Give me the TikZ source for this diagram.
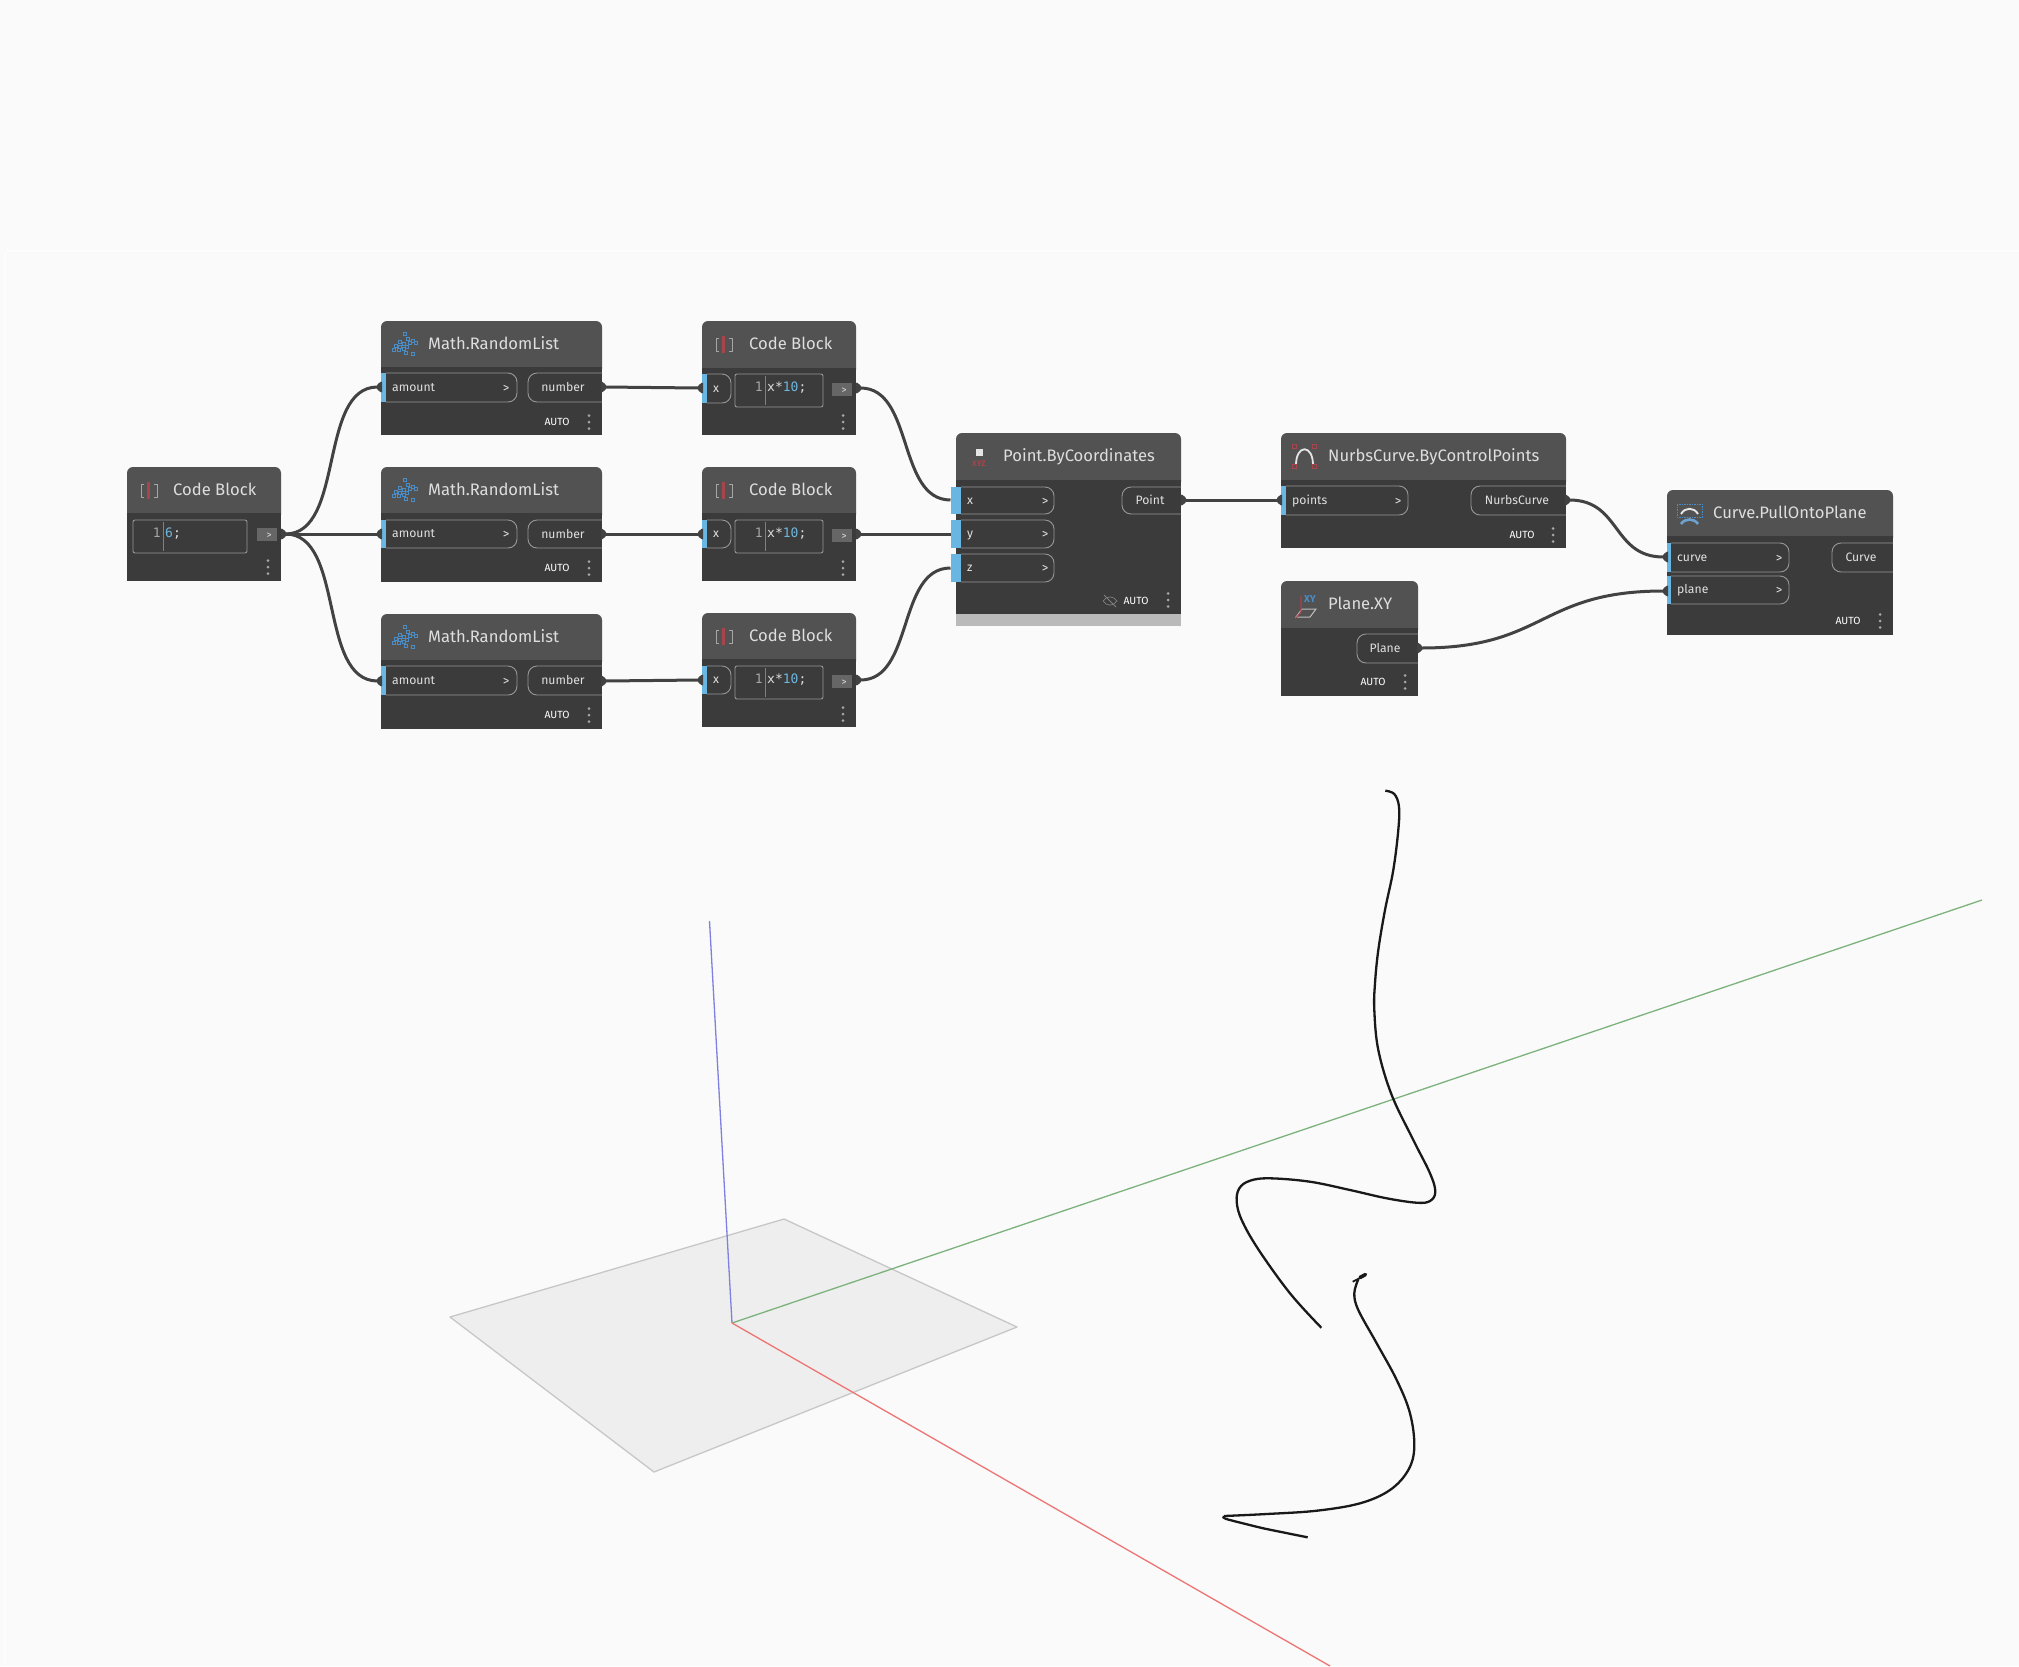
\documentclass[tikz,border=0pt]{standalone}
\usepackage{fontspec}
\setmainfont{Fira Sans}
\newfontfamily\codefont{DejaVu Sans Mono}
\definecolor{bgc}{HTML}{FAFAFA}
\definecolor{headc}{HTML}{525252}
\definecolor{bodyc}{HTML}{3B3B3B}
\definecolor{wirec}{HTML}{424242}
\definecolor{barblue}{HTML}{6AB6E2}
\definecolor{pillc}{HTML}{979797}
\definecolor{titlec}{HTML}{DEDEDE}
\definecolor{codeblue}{HTML}{6FB6DE}
\definecolor{redbar}{HTML}{A8444C}
\definecolor{iconblue}{HTML}{4A8CC6}
\tikzset{
  bodybox/.style={fill=bodyc,draw=none,inner sep=0pt,outer sep=0pt,anchor=north west},
  titlelbl/.style={text=titlec,inner sep=0pt,anchor=mid west,font=\fontsize{16.6}{16.6}\selectfont},
  portlbl/.style={text=titlec!95!white,inner sep=0pt,font=\fontsize{12.2}{12.2}\selectfont},
  autolbl/.style={text=white,inner sep=0pt,anchor=mid,font=\fontsize{10.4}{10.4}\selectfont},
  chev/.style={text=titlec,inner sep=0pt,anchor=mid,font=\fontsize{13}{13}\selectfont},
  pill/.style={draw=pillc,line width=0.9pt},
  tabnode/.style={inner sep=0pt,minimum size=1pt,outer sep=0pt},
  wire/.style={draw=wirec,line width=3pt},
  codelbl/.style={inner sep=0pt,anchor=mid west,font=\codefont\fontsize{13}{13}\selectfont},
  dotc/.style={fill=black!35!white}
}
% id, x1, x2, ytop, yhead, ybot, title, title x
\newcommand{\block}[8]{%
  \fill[headc,rounded corners=6pt] (#2,#5+8)--(#2,#4)--(#3,#4)--(#3,#5+8)--cycle;
  \node[bodybox,minimum width={#3pt-#2pt},minimum height={#6pt-#5pt}] (#1) at (#2,#5) {};
  \node[titlelbl] (#1title) at (#8,#4+26) {#7};
}
% id, bar left, bar right, pill right, y1, y2, label, chevron x
\newcommand{\inport}[8]{%
  \draw[pill,rounded corners=9pt] (#3,#5)--(#4,#5)--(#4,#6)--(#3,#6);
  \fill[barblue] (#2,#5) rectangle (#3,#6);
  \node[portlbl,anchor=mid west] (#1lbl) at (#3+6,{(#5+#6)/2+1}) {#7};
  \if\relax\detokenize{#8}\relax\else
    \node[chev] (#1chev) at (#8,{(#5+#6)/2+2}) {>};
  \fi
}
% id, pill left, pill right, y1, y2, label, label x
\newcommand{\outport}[7]{%
  \draw[pill,rounded corners=9pt] (#3,#4)--(#2,#4)--(#2,#5)--(#3,#5);
  \node[portlbl,anchor=mid] (#1lbl) at (#7,{(#4+#5)/2+1.5}) {#6};
}
\newcommand{\intab}[3]{%
  \fill[wirec,rounded corners=1pt] (#2+2,#3-6)--(#2-3,#3-2.5)--(#2-3,#3+2.5)--(#2+2,#3+6)--cycle;
  \node[tabnode] (#1) at (#2-2,#3) {};
}
\newcommand{\outtab}[3]{%
  \fill[wirec,rounded corners=1pt] (#2-2,#3-6)--(#2+3,#3-2.5)--(#2+3,#3+2.5)--(#2-2,#3+6)--cycle;
  \node[tabnode] (#1) at (#2+2,#3) {};
}
\newcommand{\kebab}[2]{%
  \fill[dotc] (#1,#2-6.5) circle (1.5) (#1,#2) circle (1.5) (#1,#2+6.5) circle (1.5);
}
% id, x, y
\newcommand{\autotag}[3]{\node[autolbl] (#1) at (#2,#3+1) {AUTO};}
% x of block left, ytop
\newcommand{\cbicon}[2]{%
  \draw[black!35!white,line width=1pt] (#1+17,#2+17)--(#1+14,#2+17)--(#1+14,#2+30)--(#1+17,#2+30);
  \draw[black!35!white,line width=1pt] (#1+27,#2+17)--(#1+30,#2+17)--(#1+30,#2+30)--(#1+27,#2+30);
  \fill[redbar] (#1+20,#2+15) rectangle (#1+23,#2+32);
}
% center of the random list icon
\newcommand{\mathicon}[2]{%
  \foreach \dx/\dy in {-11/6,-9/2,-6/6,-5/-2,-5/3,-1/0,-1/5,0/-10,2/3,1/9,5/-1,8/-3,11/-1,8/10,3/-5}{
    \draw[iconblue,line width=.9pt] (#1+\dx-1.2,#2+\dy-1.2) rectangle (#1+\dx+1.2,#2+\dy+1.2);
  }
}
\begin{document}
\begin{tikzpicture}[x=1pt,y=-1pt]
\useasboundingbox (0,0) rectangle (2019,1666);
\fill[bgc] (0,0) rectangle (2019,1666);
\draw[white,line width=1.2pt,opacity=.7] (6,251)--(2019,251);
\draw[white,line width=1.2pt,opacity=.7] (5,253)--(5,1666);
% 3D background
\draw[fill=black!6.5!white,draw=black!22!white,line width=1.3pt,line join=round] (450,1317)--(784,1219)--(1017,1327)--(654,1472)--cycle;
\draw[color={rgb,255:red,128;green,128;blue,226},line width=1.3pt] (732,1323)--(709.5,921);
\draw[color={rgb,255:red,124;green,178;blue,124},line width=1.3pt] (732,1323)--(1982,900);
\draw[color={rgb,255:red,238;green,116;blue,116},line width=1.3pt] (732,1323)--(1330,1666);
\draw[black!90!white,line width=2.3pt,line cap=butt,smooth,tension=0.6] plot coordinates {(1385.3,790.7) (1394.3,794) (1399,806.7) (1398.3,830) (1393.3,870) (1385,910) (1378.3,950) (1375,983.3) (1374.3,1010) (1378.3,1050) (1391.7,1095) (1413.3,1140) (1430,1173.3) (1435.3,1191.7) (1430,1201) (1416.7,1202.7) (1386.7,1198.3) (1350,1190) (1310,1181.7) (1270,1178.3) (1250,1180.7) (1239.3,1188.3) (1236.7,1201.7) (1241.7,1220) (1258.3,1249.3) (1290,1293.3) (1321.3,1327.7)};
\draw[black!90!white,line width=2.3pt,smooth,tension=0.6] plot coordinates {(1358.3,1279.3) (1354.3,1293.3) (1358.3,1310) (1376.7,1343.3) (1396.7,1380) (1410,1413.3) (1414.3,1446.7) (1408.3,1470) (1390,1490) (1360,1503.3) (1316.7,1510.7) (1266.7,1514) (1224,1516)};
\draw[black!90!white,line width=2.3pt,smooth,tension=0.3] plot coordinates {(1224,1516) (1223.5,1517.5) (1228,1519.5) (1263.3,1528.3) (1307.7,1537.3)};
\draw[black!90!white,line width=1.8pt] (1352.7,1281.7)--(1362,1277);
\draw[black!90!white,line width=3.6pt,line cap=round] (1360,1277.5)--(1365.5,1274.5);

% Blocks
\block{cb0}{127}{281}{467}{513}{581}{Code Block}{173}
\block{m1}{381}{602}{321}{367}{435}{Math.RandomList}{428}
\block{m2}{381}{602}{467}{513}{582}{Math.RandomList}{428}
\block{m3}{381}{602}{614}{660}{729}{Math.RandomList}{428}
\block{c1}{702}{856}{321}{368}{435}{Code Block}{749}
\block{c2}{702}{856}{467}{513}{581}{Code Block}{749}
\block{c3}{702}{856}{613}{659}{727}{Code Block}{749}
\block{pt}{956}{1181}{433}{480}{614}{Point.ByCoordinates}{1003}
\fill[black!27!white] (956,614) rectangle (1181,626);
\block{nc}{1281}{1566}{433}{480}{548}{NurbsCurve.ByControlPoints}{1328}
\block{pl}{1281}{1418}{581}{628}{696}{Plane.XY}{1328}
\block{cv}{1667}{1893}{490}{536}{635}{Curve.PullOntoPlane}{1713}

% Icons
\cbicon{127}{467}\cbicon{702}{321}\cbicon{702}{467}\cbicon{702}{613}
\mathicon{405}{344}\mathicon{405}{490}\mathicon{405}{637}
\fill[white!90!black] (975.5,448.5) rectangle (982.5,455.5);
\node[inner sep=0pt,text=redbar,font=\fontsize{8}{8}\selectfont\bfseries] (pticon) at (979,464) {XYZ};
\draw[white!90!black,line width=1.8pt] (1296,465) .. controls (1296,444) and (1313,444) .. (1313,465);
\draw[redbar,line width=.8pt] (1292.5,444.5) rectangle +(3.5,3.5);
\draw[redbar,line width=.8pt] (1312.5,444.5) rectangle +(3.5,3.5);
\draw[redbar,line width=.8pt] (1292.5,464.5) rectangle +(3.5,3.5);
\draw[redbar,line width=.8pt] (1312.5,464.5) rectangle +(3.5,3.5);
\node[inner sep=0pt,text=iconblue,font=\fontsize{10}{10}\selectfont\bfseries] (plicon) at (1310,599) {XY};
\draw[white!75!black,line width=1pt] (1296,617)--(1302,609)--(1316,609)--(1310,617)--cycle;
\draw[redbar,line width=1.1pt] (1301,596)--(1301,612)--(1296,618);
\draw[iconblue,dashed,dash pattern=on 1.5pt off 1pt,line width=.8pt] (1677,504) rectangle (1702,517);
\draw[white!90!black,line width=1.9pt] (1681,514) .. controls (1685,507) and (1694,507) .. (1698,514);
\draw[iconblue!80!white,line width=2.6pt] (1681,524) .. controls (1685,518) and (1694,518) .. (1698,524);

% Ports of the first code block
\draw[pill,rounded corners=2pt] (133,520) rectangle (247,553);
\draw[black!50!white,line width=.5pt] (163,522)--(163,551);
\node[codelbl,text=black!35!white,anchor=mid east] (cb0n) at (161,535) {1};
\node[codelbl,anchor=mid west] (cb0code) at (165,535) {\textcolor{codeblue}{6}\textcolor{titlec}{;}};
\fill[black!60!white] (257,528) rectangle (277,541);
\node[chev,font=\fontsize{10}{10}\selectfont] (cb0chev) at (269,536) {>};
\kebab{268}{567}
\outtab{cb0out}{283}{534}

% Math.RandomList blocks
\foreach \n/\pa/\pb/\au in {1/373/402/422,2/520/548/568,3/666/695/715}{
  \inport{m\n amount}{381}{386}{517}{\pa}{\pb}{amount}{506}
  \outport{m\n number}{528}{602}{\pa}{\pb}{number}{563}
  \autotag{m\n auto}{557}{\au}
  \kebab{589}{\au}
}
\intab{m1in}{380}{387}\outtab{m1out}{603}{387}
\intab{m2in}{380}{534}\outtab{m2out}{603}{534}
\intab{m3in}{380}{681}\outtab{m3out}{603}{681}

% x*10 code blocks
\foreach \n/\yc/\pb/\bb in {1/374/403/407,2/520/548/553,3/666/694/699}{
  \inport{c\n x}{702}{707}{731}{\yc}{\pb}{x}{}
  \draw[pill,rounded corners=2pt] (735,\yc) rectangle (823,\bb);
  \draw[black!50!white,line width=.5pt] (765,\yc+2)--(765,\bb-2);
  \node[codelbl,text=black!35!white,anchor=mid east] (c\n n) at (763,\yc+15) {1};
  \node[codelbl] (c\n code) at (767,\yc+15) {\textcolor{titlec}{x*}\textcolor{codeblue}{10}\textcolor{titlec}{;}};
  \fill[black!60!white] (832,\yc+9) rectangle (852,\yc+22);
  \node[chev,font=\fontsize{10}{10}\selectfont] (c\n chev) at (844,\yc+17) {>};
  \kebab{843}{\yc+48}
}
\intab{c1in}{701}{388}\outtab{c1out}{858}{388}
\intab{c2in}{701}{534}\outtab{c2out}{858}{534}
\intab{c3in}{701}{680}\outtab{c3out}{858}{680}

% Point.ByCoordinates
\inport{ptx}{951}{961}{1054}{487}{514}{x}{1045}
\inport{pty}{951}{961}{1054}{520}{548}{y}{1045}
\inport{ptz}{951}{961}{1054}{554}{582}{z}{1045}
\node[tabnode] (ptxin) at (951,500) {};
\node[tabnode] (ptyin) at (951,534) {};
\node[tabnode] (ptzin) at (951,568) {};
\outport{ptout}{1122}{1181}{487}{514}{Point}{1150}
\outtab{ptoutt}{1183}{500}
\draw[black!50!white,line width=.7pt] (1103,601) .. controls (1107,595.5) and (1113,595.5) .. (1117,601) .. controls (1113,606.5) and (1107,606.5) .. (1103,601);
\draw[black!50!white,line width=.8pt] (1104,595)--(1116,607);
\autotag{ptauto}{1136}{601}
\kebab{1168}{600}

% NurbsCurve.ByControlPoints
\inport{ncp}{1281}{1286}{1408}{486}{515}{points}{1398}
\outport{ncc}{1471}{1566}{486}{515}{NurbsCurve}{1517}
\intab{ncin}{1280}{500}\outtab{ncout}{1567}{500}
\autotag{ncauto}{1522}{535}
\kebab{1553}{535}

% Plane.XY
\outport{plo}{1357}{1418}{634}{663}{Plane}{1385}
\outtab{plout}{1419}{648}
\autotag{plauto}{1373}{682}
\kebab{1405}{682}

% Curve.PullOntoPlane
\inport{cvc}{1667}{1671}{1789}{543}{572}{curve}{1779}
\inport{cvp}{1667}{1671}{1789}{576}{604}{plane}{1779}
\outport{cvo}{1832}{1893}{543}{572}{Curve}{1861}
\intab{cvin}{1666}{557}\intab{cvpl}{1666}{591}
\autotag{cvauto}{1848}{621}
\kebab{1880}{621}

% Connectors
\draw[wire] (cb0out) .. controls +(60,0) and +(-60,0) .. (m1in);
\draw[wire] (cb0out) -- (m2in);
\draw[wire] (cb0out) .. controls +(60,0) and +(-60,0) .. (m3in);
\draw[wire] (m1out) -- (c1in);
\draw[wire] (m2out) -- (c2in);
\draw[wire] (m3out) -- (c3in);
\draw[wire] (c1out) .. controls +(54,0) and +(-54,0) .. (ptxin);
\draw[wire] (c2out) -- (ptyin);
\draw[wire] (c3out) .. controls +(54,0) and +(-54,0) .. (ptzin);
\draw[wire] (ptoutt) -- (ncin);
\draw[wire] (ncout) .. controls +(52,0) and +(-52,0) .. (cvin);
\draw[wire] (plout) .. controls +(125,0) and +(-125,0) .. (cvpl);
\end{tikzpicture}
\end{document}
